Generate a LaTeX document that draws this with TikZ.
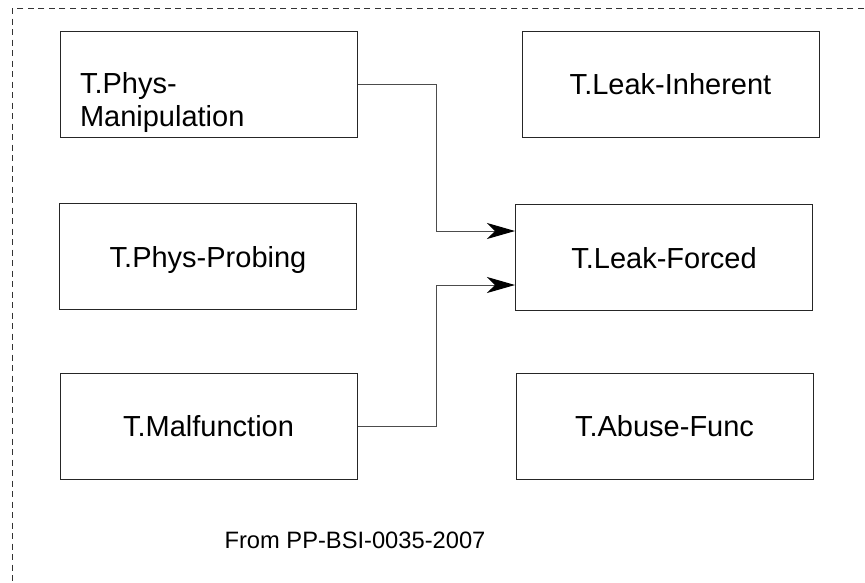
\documentclass[tikz,border=0pt]{standalone}
\usepackage{fontspec}
\setmainfont{Liberation Sans}
\usetikzlibrary{arrows.meta}

\begin{document}
\begin{tikzpicture}[x=1pt, y=-1pt]
        \tikzstyle{every node} = [font=\fontsize{29}{33}\selectfont]
        \tikzstyle{threat} = [draw=black!85, line width=1pt, inner sep=0pt, minimum width=297pt, minimum height=106pt, text height=21pt, text depth=0pt]
        \tikzstyle{threatml} = [threat, align=left, text width=257pt, inner xsep=20pt, text depth=3pt]
        \tikzstyle{link} = [draw=black!70, line width=1pt, -{Stealth[length=28pt, width=16pt, inset=8pt, black]}]
        \tikzstyle{frame} = [draw=black!80, line width=1pt, dash pattern=on 6pt off 4.5pt]
        \tikzstyle{source} = [font=\fontsize{23.7}{28}\selectfont, anchor=base]

        \def\bend{79}

        \useasboundingbox (0,0) rectangle (865,582);
        \clip (0,0) rectangle (865,582);
        \draw[frame] (12,8) rectangle (880,600);

        % threats
        \node[threatml] (manip) at (208.5,84) {T.Phys-\\Manipulation};
        \foreach \n/\x/\y/\t in {probing/208/256.5/T.Phys-Probing, malf/208.5/426/T.Malfunction,
                                 inherent/670.5/84/T.Leak-Inherent, forced/664/257.5/T.Leak-Forced,
                                 abuse/664.5/426/T.Abuse-Func}
            \node[threat] (\n) at (\x,\y) {\t};

        \draw[link] (manip.east) -- ++(\bend,0) |- ([yshift=26.5pt]forced.west);
        \draw[link] (malf.east) -- ++(\bend,0) |- ([yshift=-27.5pt]forced.west);

        \node[source] (src) at (355,548) {From PP-BSI-0035-2007};
\end{tikzpicture}
\end{document}
